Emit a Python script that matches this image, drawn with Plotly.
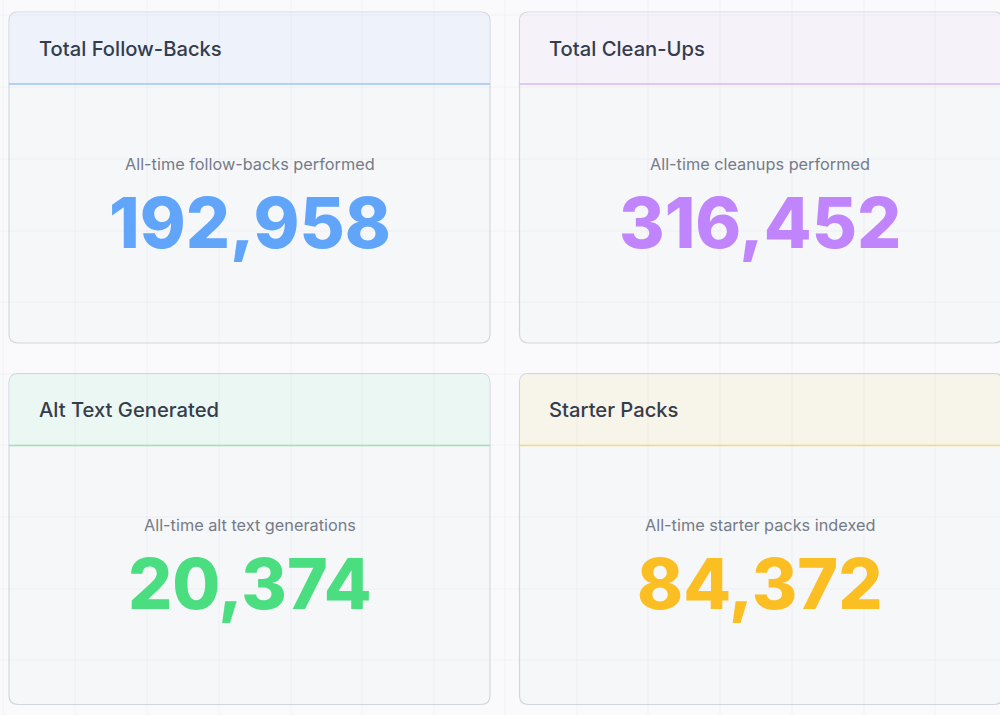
import plotly.graph_objects as go

titles = ["Total Follow-Backs", "Total Clean-Ups", "Alt Text Generated", "Starter Packs"]
captions = ["All-time follow-backs performed", "All-time cleanups performed",
            "All-time alt text generations", "All-time starter packs indexed"]
values = [192958, 316452, 20374, 84372]
value_colors = ["#60a5fa", "#c084fc", "#4ade80", "#fbbf24"]
header_fills = ["#eef2fb", "#f6f2fa", "#ebf7f3", "#f7f4ea"]
rule_colors = ["#9fc4ee", "#d8b8f0", "#9de3b8", "#f8d97e"]

grid_x = [3, 75, 147, 219, 291, 362, 434, 505, 577, 648, 720, 792, 864, 935]
grid_y = [15, 87, 159, 231, 302, 374, 445, 517, 589, 660]

card_lefts = [9, 519.5]
card_rights = [490, 1003]
card_tops = [12, 373.5]
card_h = 331
head_h = 72
R = 9
FONT = "Inter, 'Noto Sans', sans-serif"

def rounded(x0, y0, x1, y1, tl=R, tr=R, br=R, bl=R):
    return (f"M {x0+tl} {y0} L {x1-tr} {y0} Q {x1} {y0} {x1} {y0+tr} "
            f"L {x1} {y1-br} Q {x1} {y1} {x1-br} {y1} "
            f"L {x0+bl} {y1} Q {x0} {y1} {x0} {y1-bl} "
            f"L {x0} {y0+tl} Q {x0} {y0} {x0+tl} {y0} Z")

shapes, ann = [], []
for i in range(4):
    x0, x1 = card_lefts[i % 2], card_rights[i % 2]
    y0 = card_tops[i // 2]
    y1 = y0 + card_h
    cx = (card_lefts[i % 2] + card_rights[i % 2] - (0 if i % 2 == 0 else 3)) / 2
    shapes.append(dict(type="path", path=rounded(x0, y0, x1, y1), fillcolor="#f6f7f9",
                       line=dict(color="#d3d7dd", width=1.2), layer="below"))
    shapes.append(dict(type="path", path=rounded(x0 + .6, y0 + .6, x1 - .6, y0 + head_h, tl=R, tr=R, br=0, bl=0),
                       fillcolor=header_fills[i], line=dict(width=0), layer="below"))
    ann.append(dict(x=x0 + 27.5, y=y0 + 36, text=titles[i], xanchor="left", yanchor="middle", showarrow=False,
                    font=dict(family=FONT, size=20.2, color="#343d4c", weight=500)))
    ann.append(dict(x=cx, y=y0 + 151.5, text=captions[i], xanchor="center", yanchor="middle", showarrow=False,
                    font=dict(family=FONT, size=16.3, color="#747b88")))
    ann.append(dict(x=cx, y=y0 + 210.5, text=f"{values[i]:,}", xanchor="center", yanchor="middle", showarrow=False,
                    font=dict(family=FONT, size=69.5, color=value_colors[i], weight=800)))

for gx in grid_x:
    shapes.append(dict(type="line", x0=gx, x1=gx, y0=0, y1=715, line=dict(color="rgba(190,196,208,0.13)", width=1), layer="below"))
for gy in grid_y:
    shapes.append(dict(type="line", x0=0, x1=1000, y0=gy, y1=gy, line=dict(color="rgba(190,196,208,0.13)", width=1), layer="below"))
for i in range(4):
    x0, x1 = card_lefts[i % 2], card_rights[i % 2]
    y0 = card_tops[i // 2]
    shapes.append(dict(type="line", x0=x0, x1=x1, y0=y0 + head_h, y1=y0 + head_h,
                       line=dict(color=rule_colors[i], width=1.3), layer="below"))

fig = go.Figure()
fig.update_layout(
    width=1000, height=715, margin=dict(l=0, r=0, t=0, b=0),
    paper_bgcolor="#fafafc", plot_bgcolor="#fafafc", showlegend=False,
    xaxis=dict(range=[0, 1000], visible=False, fixedrange=True),
    yaxis=dict(range=[715, 0], visible=False, fixedrange=True),
    shapes=shapes, annotations=ann,
)
fig.write_html("out.html", config=dict(displayModeBar=False),
               post_script="document.body.style.margin='0';document.body.style.background='#fafafc';document.body.style.overflow='hidden';")
